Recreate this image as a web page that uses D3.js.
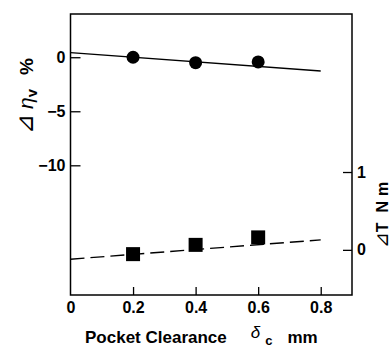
<!DOCTYPE html>
<html>
<head>
<meta charset="utf-8">
<script src="https://cdn.jsdelivr.net/npm/d3@7"></script>
<style>
  body { margin: 0; background: #fff; }
  svg { display: block; }
  text { font-family: "Liberation Sans", Arial, sans-serif; font-weight: bold; fill: #000; }
</style>
</head>
<body>
<svg id="chart" width="392" height="347"></svg>
<script>
// pocket clearance (mm) of the measured points
var clearance = [0.2, 0.4, 0.6];
// change of volumetric efficiency, %
var effDelta = [0, -0.5, -0.43];
// change of torque, N m
var torqueDelta = [-0.055, 0.064, 0.16];
// fitted lines, end points
var fitX = [0, 0.8];
var effFit = [0.43, -1.27];
var torqueFit = [-0.12, 0.128];
// ticks
var xTicks = [0, 0.2, 0.4, 0.6, 0.8];
var leftTicks = [0, -5, -10];
var rightTicks = [0, 1];

var svg = d3.select("#chart");
var pLeft = 70.5, pRight = 352, pTop = 14, pBottom = 295;

var x = d3.scaleLinear().domain([0, 0.9]).range([pLeft, pRight]);
var yL = d3.scaleLinear().domain([4, -22]).range([pTop, pBottom]);
var yR = d3.scaleLinear().domain([3.03, -0.58]).range([pTop, pBottom]);

// frame
svg.append("rect")
  .attr("x", pLeft).attr("y", pTop)
  .attr("width", pRight - pLeft).attr("height", pBottom - pTop)
  .attr("fill", "none").attr("stroke", "#000").attr("stroke-width", 1.5);

var xAxis = svg.append("g")
  .attr("transform", "translate(0," + pBottom + ")")
  .call(d3.axisBottom(x).tickValues(xTicks).tickSize(-8).tickPadding(7)
    .tickFormat(function(d) { return d == 0 ? "0" : d3.format(".1f")(d); }));

var lAxis = svg.append("g")
  .attr("transform", "translate(" + pLeft + ",0)")
  .call(d3.axisLeft(yL).tickValues(leftTicks).tickSize(-10).tickPadding(5)
    .tickFormat(function(d) { return d < 0 ? "\u2212" + Math.abs(d) : d; }));

var rAxis = svg.append("g")
  .attr("transform", "translate(" + pRight + ",0)")
  .call(d3.axisRight(yR).tickValues(rightTicks).tickSize(-9).tickPadding(5)
    .tickFormat(d3.format("d")));

[xAxis, lAxis, rAxis].forEach(function(a) {
  a.attr("font-size", 16).attr("font-family", "Liberation Sans, Arial, sans-serif");
  a.select(".domain").remove();
  a.selectAll("line").attr("stroke", "#000").attr("stroke-width", 1.3);
  a.selectAll("text").attr("font-weight", "bold");
});
xAxis.selectAll(".tick").filter(function(d) { return d == 0; }).select("line").remove();

// fitted lines
svg.append("line")
  .attr("x1", x(fitX[0])).attr("y1", yL(effFit[0]))
  .attr("x2", x(fitX[1])).attr("y2", yL(effFit[1]))
  .attr("stroke", "#000").attr("stroke-width", 1.4);

svg.append("line")
  .attr("x1", x(fitX[0])).attr("y1", yR(torqueFit[0]))
  .attr("x2", x(fitX[1])).attr("y2", yR(torqueFit[1]))
  .attr("stroke", "#000").attr("stroke-width", 1.4)
  .attr("stroke-dasharray", "14,6");

// markers
svg.selectAll(".eff")
  .data(clearance)
  .enter()
  .append("circle")
  .attr("class", "eff")
  .attr("cx", function(d) { return x(d); })
  .attr("cy", function(d, i) { return yL(effDelta[i]); })
  .attr("r", 6.5)
  .attr("fill", "#000");

var sq = 14;
svg.selectAll(".torque")
  .data(clearance)
  .enter()
  .append("rect")
  .attr("class", "torque")
  .attr("x", function(d) { return x(d) - sq / 2; })
  .attr("y", function(d, i) { return yR(torqueDelta[i]) - sq / 2; })
  .attr("width", sq).attr("height", sq)
  .attr("fill", "#000");

// axis titles
var lt = svg.append("text")
  .attr("transform", "translate(33,96) rotate(-90)")
  .attr("text-anchor", "middle")
  .attr("font-size", "19px");
lt.append("tspan").attr("font-size", "24px").attr("font-weight", "normal").text("\u22BF");
lt.append("tspan").attr("dx", 5).attr("font-style", "italic").attr("font-weight", "normal").attr("font-size", "21px").text("\u03B7");
lt.append("tspan").attr("dy", 4).attr("font-size", "15px").text("v");
lt.append("tspan").attr("dx", 14).attr("dy", -4).text("%");

var rt = svg.append("text")
  .attr("transform", "translate(388,215) rotate(-90)")
  .attr("text-anchor", "middle")
  .attr("font-size", "16px");
rt.append("tspan").attr("font-weight", "normal").attr("font-size", "19px").text("\u22BF");
rt.append("tspan").text("T");
rt.append("tspan").attr("dx", 10).text("N");
rt.append("tspan").attr("dx", 5).text("m");

var bt = svg.append("text")
  .attr("x", 85).attr("y", 343)
  .attr("font-size", "17px");
bt.append("tspan").text("Pocket Clearance");
bt.append("tspan").attr("dx", 24).attr("dy", -5).attr("font-style", "italic").attr("font-weight", "normal").text("\u03B4");
bt.append("tspan").attr("dx", 5).attr("dy", 7).attr("font-size", "13px").text("c");
bt.append("tspan").attr("dx", 15).attr("dy", -2).text("mm");
</script>
</body>
</html>
